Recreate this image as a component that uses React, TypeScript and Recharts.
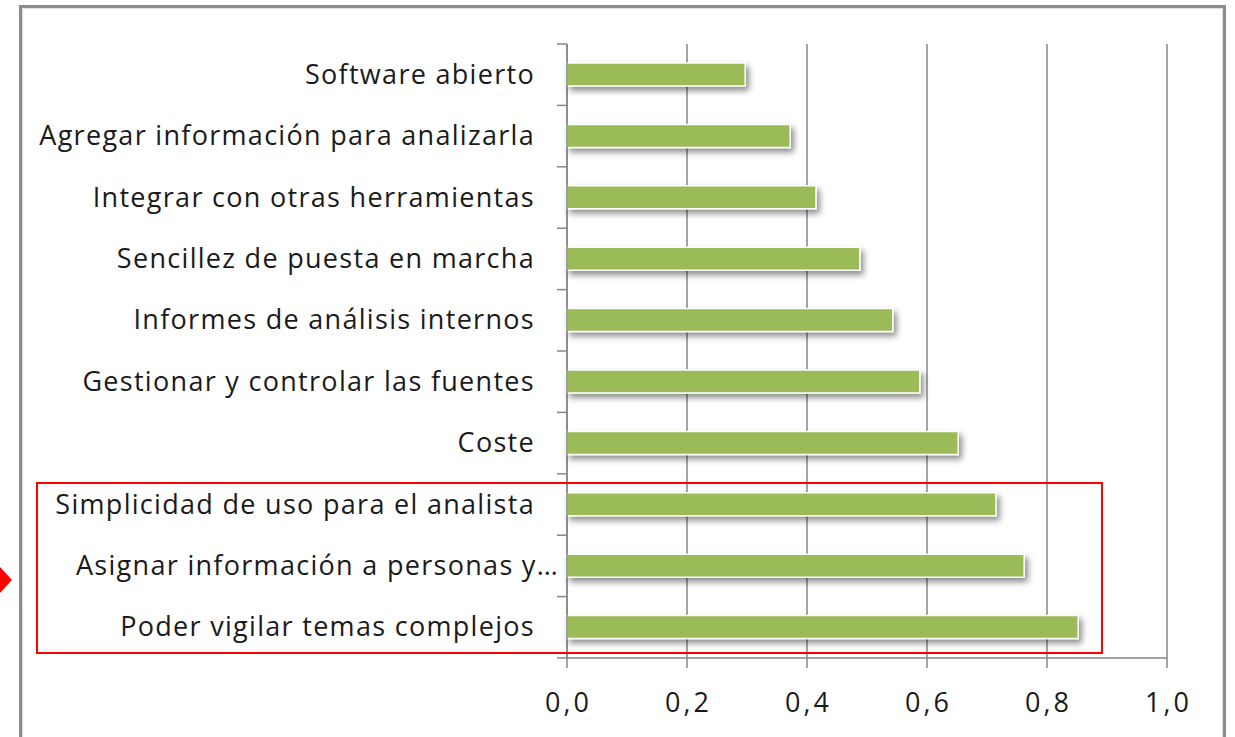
import React from "react";
import { BarChart, Bar, XAxis, YAxis, CartesianGrid } from "recharts";

const categories = [
  "Software abierto",
  "Agregar información para analizarla",
  "Integrar con otras herramientas",
  "Sencillez de puesta en marcha",
  "Informes de análisis internos",
  "Gestionar y controlar las fuentes",
  "Coste",
  "Simplicidad de uso para el analista",
  "Asignar información a personas y…",
  "Poder vigilar temas complejos",
];
const values = [0.297, 0.372, 0.415, 0.488, 0.543, 0.588, 0.652, 0.715, 0.762, 0.852];
const xTicks = [0, 0.2, 0.4, 0.6, 0.8, 1.0];

const data = categories.map((name, i) => ({ name, value: values[i] }));

const FONT = "'Open Sans', sans-serif";
const GRID = "#868686";
const PLOT_TOP = 44;
const PLOT_BOTTOM = 658;
const BAND = (PLOT_BOTTOM - PLOT_TOP) / categories.length;

const CategoryTick = (props: any) => {
  const { y, payload, index } = props;
  const axisX = 567;
  // truncated labels run past the usual gap, like in the original
  const truncated = String(payload.value).endsWith("…");
  return (
    <g>
      {index === 0 && (
        <line x1={axisX - 10} x2={axisX} y1={y - BAND / 2} y2={y - BAND / 2} stroke={GRID} strokeWidth={1.5} />
      )}
      <line x1={axisX - 10} x2={axisX} y1={y + BAND / 2} y2={y + BAND / 2} stroke={GRID} strokeWidth={1.5} />
      <text
        x={truncated ? axisX - 8 : axisX - 32}
        y={y}
        dy={9}
        textAnchor="end"
        fontFamily={FONT}
        fontSize={27}
        letterSpacing={1.3}
        fill="#1a1a1a"
      >
        {payload.value}
      </text>
    </g>
  );
};

const ValueTick = (props: any) => {
  const { x, y, payload } = props;
  return (
    <text
      x={x + 1.5}
      y={y}
      dy={44}
      textAnchor="middle"
      fontFamily={FONT}
      fontSize={27}
      letterSpacing={3}
      fill="#1a1a1a"
    >
      {payload.value.toFixed(1).replace(".", ",")}
    </text>
  );
};

export default function App() {
  return (
    <div style={{ position: "absolute", left: 0, top: 0, width: 1235, height: 737, overflow: "hidden", background: "#fff" }}>
      <div
        style={{
          position: "absolute",
          left: 19,
          top: 5,
          width: 1201,
          height: 800,
          border: "3px solid #8c8c8c",
          boxShadow: "inset 0 0 0 1px #e0e0e0",
        }}
      />
      <div style={{ position: "absolute", left: 0, top: 0 }}>
        <BarChart
          width={1235}
          height={737}
          data={data}
          layout="vertical"
          margin={{ top: PLOT_TOP, right: 68, bottom: 0, left: 0 }}
          barCategoryGap={0}
        >
          <defs>
            <filter id="barShadow" x="-5%" y="-50%" width="115%" height="250%">
              <feDropShadow dx={3} dy={4} stdDeviation={3} floodColor="#000" floodOpacity={0.45} />
            </filter>
          </defs>
          <CartesianGrid horizontal={false} stroke={GRID} strokeWidth={1.5} />
          <XAxis
            type="number"
            domain={[0, 1]}
            ticks={xTicks}
            height={79}
            tickSize={10}
            tickMargin={0}
            tick={<ValueTick />}
            axisLine={{ stroke: GRID, strokeWidth: 1.5 }}
            tickLine={{ stroke: GRID, strokeWidth: 1.5 }}
            interval={0}
          />
          <YAxis
            type="category"
            dataKey="name"
            width={567}
            tick={<CategoryTick />}
            tickLine={false}
            axisLine={{ stroke: GRID, strokeWidth: 1.5 }}
            interval={0}
          />
          <Bar
            dataKey="value"
            fill="#9BBB59"
            stroke="#ffffff"
            strokeWidth={1.5}
            barSize={23}
            filter="url(#barShadow)"
            isAnimationActive={false}
          />
        </BarChart>
      </div>
      <svg width={1235} height={737} style={{ position: "absolute", left: 0, top: 0, pointerEvents: "none" }}>
        <rect x={37} y={483} width={1065} height={170} fill="none" stroke="#ff0000" strokeWidth={2} />
        <polygon points="0,567 12,580 0,593" fill="#ff0000" />
      </svg>
    </div>
  );
}
